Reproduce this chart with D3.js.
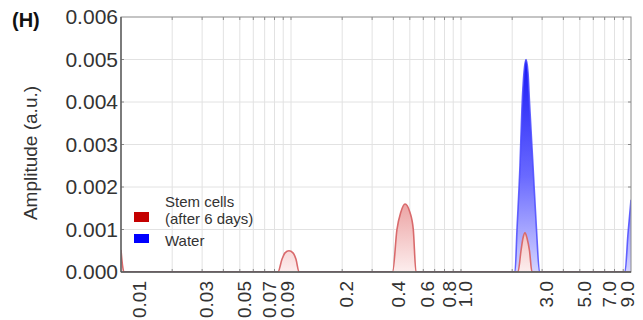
<!DOCTYPE html>
<html><head><meta charset="utf-8">
<script src="https://cdn.jsdelivr.net/npm/d3@7"></script>
<style>body{margin:0;background:#fff}svg{display:block}text{font-family:"Liberation Sans",Arial,sans-serif}</style>
</head><body><svg id="c" width="643" height="320"></svg>
<script>
// ---- data ----
const xTickValues = [0.01,0.03,0.05,0.07,0.09,0.2,0.4,0.6,0.8,1.0,3.0,5.0,7.0,9.0];
const xTickLabels = ["0.01","0.03","0.05","0.07","0.09","0.2","0.4","0.6","0.8","1.0","3.0","5.0","7.0","9.0"];
const yTickValues = [0,0.001,0.002,0.003,0.004,0.005,0.006];
const yTickLabels = ["0.000","0.001","0.002","0.003","0.004","0.005","0.006"];
const seriesNames = ["Stem cells","(after 6 days)","Water"];
const stemX = [0.01,0.01021,0.01041, 0.0838,0.0885,0.0922,0.0973,0.1027,0.107,0.1115, 0.396,0.420,0.442,0.4685,0.501,0.524,0.5436, 2.164,2.254,2.316,2.379,2.444,2.529,2.616, 10];
const stemY = [0.00052,0.00015,0, 0,0.0003,0.00045,0.0005,0.00045,0.0003,0, 0,0.001,0.0014,0.0016,0.0014,0.001,0, 0,0.0005,0.0008,0.00092,0.0008,0.0005,0, 0];
const waterX = [0.01,2.078,2.135,2.223,2.285,2.347,2.412,2.478,2.529,2.652,2.780,2.896,9.22,9.60,10];
const waterY = [0,0,0.001,0.0025,0.0039,0.0047,0.005,0.0047,0.004,0.0025,0.001,0,0,0.0009,0.0017];

// ---- layout ----
const L=121,R=631,T=17,B=272;
const svg=d3.select("#c");
const x=d3.scaleLog().domain([0.01,10]).range([L,R]);
const y=d3.scaleLinear().domain([0,0.006]).range([B,T]);

const defs=svg.append("defs");
defs.append("clipPath").attr("id","clip").append("rect").attr("x",L).attr("y",T).attr("width",R-L).attr("height",B-T);
const gb=defs.append("linearGradient").attr("id","gb").attr("gradientUnits","userSpaceOnUse").attr("x1",0).attr("x2",0).attr("y1",y(0.005)).attr("y2",y(0));
gb.append("stop").attr("offset",0).attr("stop-color","#1818f5");
gb.append("stop").attr("offset",0.55).attr("stop-color","#6a6aff");
gb.append("stop").attr("offset",1).attr("stop-color","#d4d4ff");
const gr=defs.append("linearGradient").attr("id","gr").attr("gradientUnits","userSpaceOnUse").attr("x1",0).attr("x2",0).attr("y1",y(0.0016)).attr("y2",y(0));
gr.append("stop").attr("offset",0).attr("stop-color","#eca4a4");
gr.append("stop").attr("offset",1).attr("stop-color","#fdeeee");

// grid
const gridX=x.ticks().filter(v=>v>0.0101&&v<9.99);
svg.append("g").selectAll("line").data(gridX).join("line")
 .attr("x1",d=>x(d)).attr("x2",d=>x(d)).attr("y1",T).attr("y2",B)
 .attr("stroke","#e2e2e2").attr("stroke-width",1);
svg.append("g").selectAll("line").data(yTickValues.slice(1,-1)).join("line")
 .attr("x1",L).attr("x2",R).attr("y1",d=>y(d)).attr("y2",d=>y(d))
 .attr("stroke","#e2e2e2").attr("stroke-width",1);
// inner minor ticks
const tk=svg.append("g").attr("stroke","#888").attr("stroke-width",1);
gridX.forEach(v=>{
  tk.append("line").attr("x1",x(v)).attr("x2",x(v)).attr("y1",B).attr("y2",B-3);
  tk.append("line").attr("x1",x(v)).attr("x2",x(v)).attr("y1",T).attr("y2",T+3);
});
yTickValues.slice(1,-1).forEach(v=>{
  tk.append("line").attr("x1",R).attr("x2",R-3).attr("y1",y(v)).attr("y2",y(v));
  tk.append("line").attr("x1",L).attr("x2",L+3).attr("y1",y(v)).attr("y2",y(v));
});

// series
const stem=stemX.map((v,i)=>({x:v,y:stemY[i]}));
const water=waterX.map((v,i)=>({x:v,y:waterY[i]}));
const area=d3.area().x(d=>x(d.x)).y0(y(0)).y1(d=>y(d.y)).curve(d3.curveMonotoneX);
const line=d3.line().x(d=>x(d.x)).y(d=>y(d.y)).curve(d3.curveMonotoneX);
const pg=svg.append("g").attr("clip-path","url(#clip)");
pg.append("path").datum(water).attr("d",area).attr("fill","url(#gb)");
pg.append("path").datum(water).attr("d",line).attr("fill","none").attr("stroke","#4a4aff").attr("stroke-width",1.6).attr("stroke-opacity",0.85);
pg.append("path").datum(stem).attr("d",area).attr("fill","url(#gr)");
pg.append("path").datum(stem).attr("d",line).attr("fill","none").attr("stroke","#d96a6c").attr("stroke-width",1.6);

// frame
svg.append("rect").attr("x",L).attr("y",T).attr("width",R-L).attr("height",B-T).attr("fill","none").attr("stroke","#8a8a8a").attr("stroke-width",1);
svg.append("line").attr("x1",L).attr("x2",L).attr("y1",T).attr("y2",B).attr("stroke","#555").attr("stroke-width",1.3);
svg.append("line").attr("x1",L).attr("x2",R).attr("y1",B).attr("y2",B).attr("stroke","#555").attr("stroke-width",1.3);

// x axis labels
const xa=svg.append("g").attr("transform",`translate(0,${B})`)
 .call(d3.axisBottom(x).tickValues(xTickValues).tickFormat((d,i)=>xTickLabels[i]).tickSize(0));
xa.select(".domain").remove();
xa.selectAll("text").attr("transform","rotate(-90)").attr("text-anchor","end")
 .attr("x",-9).attr("y",(d,i)=>i===0?18:4).attr("dy","0.35em")
 .attr("font-size",19).attr("fill","#333").style("font-family","'Liberation Sans',Arial,sans-serif");

// y axis labels
const ya=svg.append("g").attr("transform",`translate(${L},0)`)
 .call(d3.axisLeft(y).tickValues(yTickValues).tickFormat((d,i)=>yTickLabels[i]).tickSize(0).tickPadding(3));
ya.select(".domain").remove();
ya.selectAll("text").attr("font-size",21).attr("fill","#333").style("font-family","'Liberation Sans',Arial,sans-serif");

// titles
svg.append("text").attr("transform","translate(37,153) rotate(-90)").attr("text-anchor","middle")
 .attr("font-size",19).attr("fill","#333").text("Amplitude (a.u.)");
svg.append("text").attr("x",12).attr("y",27).attr("font-size",20).attr("font-weight","bold").attr("fill","#111").text("(H)");

// legend
svg.append("rect").attr("x",134).attr("y",212).attr("width",15).attr("height",10).attr("fill","#c40000");
svg.append("rect").attr("x",134).attr("y",234).attr("width",15).attr("height",9).attr("fill","#0000ff");
const lg=svg.append("g").attr("font-size",15).attr("fill","#333");
lg.append("text").attr("x",165).attr("y",207).text(seriesNames[0]);
lg.append("text").attr("x",165).attr("y",224).text(seriesNames[1]);
lg.append("text").attr("x",165).attr("y",246).text(seriesNames[2]);
</script></body></html>
